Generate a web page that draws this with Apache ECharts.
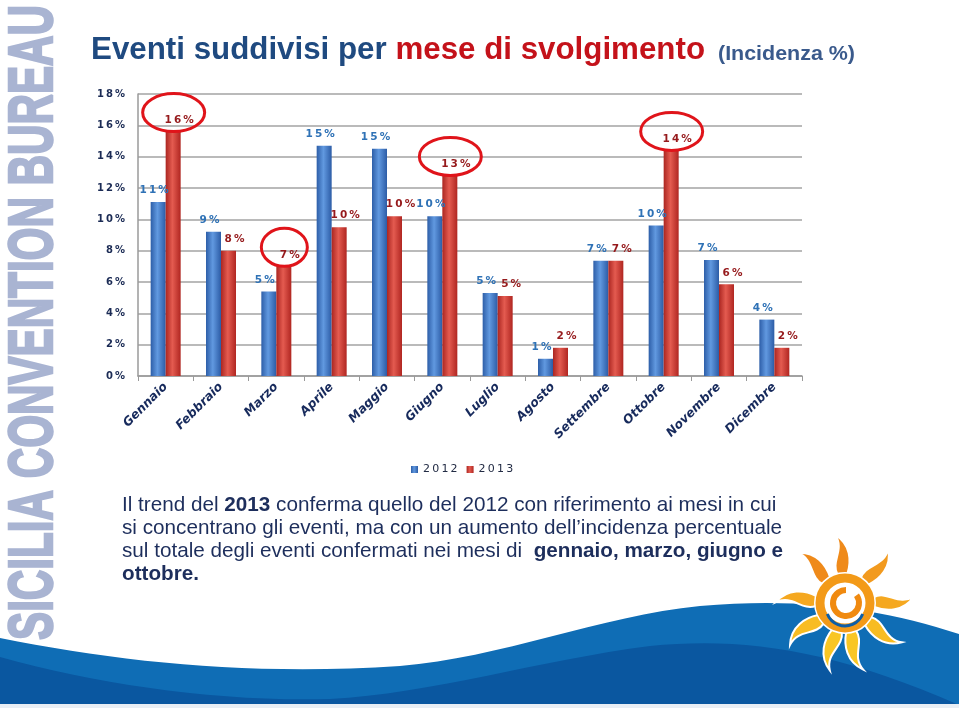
<!DOCTYPE html>
<html><head><meta charset="utf-8">
<script src="https://cdn.jsdelivr.net/npm/echarts@6/dist/echarts.min.js"></script>
<style>html,body{margin:0;padding:0;background:#fff;}#c{width:959px;height:708px;}</style>
</head><body><div id="c"></div>
<script>
var months = ['Gennaio','Febbraio','Marzo','Aprile','Maggio','Giugno','Luglio','Agosto','Settembre','Ottobre','Novembre','Dicembre'];
var values2012 = [11.1, 9.2, 5.4, 14.7, 14.5, 10.2, 5.3, 1.1, 7.35, 9.6, 7.4, 3.6];
var values2013 = [15.6, 8.0, 7.0, 9.5, 10.2, 12.8, 5.1, 1.8, 7.35, 14.4, 5.85, 1.8];
var labels2012 = ['11%','9%','5%','15%','15%','10%','5%','1%','7%','10%','7%','4%'];
var labels2013 = ['16%','8%','7%','10%','10%','13%','5%','2%','7%','14%','6%','2%'];
var yTicks = ['0%','2%','4%','6%','8%','10%','12%','14%','16%','18%'];
var highlighted = [0, 2, 5, 9];
var seriesNames = ['2012', '2013'];

function spaced(s){ return s.split('').join('\u2009'); }
var mctx = document.createElement('canvas').getContext('2d');
function measure(txt, font){ mctx.font = font; return mctx.measureText(txt).width; }

var chart = echarts.init(document.getElementById('c'));
function grad(a,b,c){
  return new echarts.graphic.LinearGradient(0,0,1,0,[{offset:0,color:a},{offset:0.45,color:b},{offset:1,color:c}]);
}
var option = {
  animation:false,
  backgroundColor:'#ffffff',
  grid:{left:138, right:157, top:94, bottom:332},
  legend:{
    data:seriesNames, top:459, left:406,
    itemWidth:7, itemHeight:7, itemGap:9, icon:'rect',
    textStyle:{fontFamily:'DejaVu Sans', fontSize:11, color:'#222b44'},
    formatter:function(n){return spaced(n);}
  },
  xAxis:{
    type:'category', data:months,
    axisLine:{lineStyle:{color:'#9a9a9a', width:1.5}},
    axisTick:{show:true, length:5, lineStyle:{color:'#9a9a9a'}},
    axisLabel:{rotate:45, margin:9, interval:0, fontFamily:'DejaVu Sans', fontWeight:'bold', fontStyle:'italic', fontSize:12.3, color:'#172a5c'}
  },
  yAxis:{
    type:'value', min:0, max:18, interval:2,
    axisLine:{show:true, lineStyle:{color:'#9a9a9a', width:1.5}},
    axisTick:{show:false},
    splitLine:{lineStyle:{color:'#a3a3a3', width:1.5}},
    axisLabel:{margin:13, fontFamily:'DejaVu Sans', fontWeight:'bold', fontSize:10, color:'#1b2b55',
      formatter:function(v){ return spaced(yTicks[Math.round(v/2)]); }}
  },
  series:[
    {name:seriesNames[0], type:'bar', data:values2012, barWidth:15, barGap:'0%',
      itemStyle:{color:grad('#2d5ea8','#6199e0','#2c5ca6')},
      label:{show:true, position:'top', distance:6, offset:[-4,0], fontFamily:'DejaVu Sans', fontWeight:'bold', fontSize:10.5, color:'#2f72b6',
        formatter:function(p){return spaced(labels2012[p.dataIndex]);}}
    },
    {name:seriesNames[1], type:'bar', data:values2013, barWidth:15,
      itemStyle:{color:grad('#ab2621','#e45b50','#b02621')},
      label:{show:true, position:'top', distance:6, offset:[6,0], fontFamily:'DejaVu Sans', fontWeight:'bold', fontSize:10.5, color:'#961a1c',
        formatter:function(p){return spaced(labels2013[p.dataIndex]);}}
    }
  ]
};
chart.setOption(option);

// custom decorative shapes
echarts.graphic.registerShape('waveTop', echarts.graphic.extendPath('M0,638 C120,662 250,676 400,666 C500,658 600,616 700,606 C800,597 880,608 959,634 L959,705 L0,705 Z', {}));
echarts.graphic.registerShape('waveLow', echarts.graphic.extendPath('M0,657 C100,685 220,702 330,699 C430,694 540,660 650,646 C740,637 830,648 959,705 L0,705 Z', {}));
echarts.graphic.registerShape('flame', echarts.graphic.extendPath('M-5,0 C-11,-14 5,-24 -4,-40 C11,-29 10,-12 5,0 Z', {}));

var g = [];
highlighted.forEach(function(i){
  var p = chart.convertToPixel({xAxisIndex:0, yAxisIndex:0}, [i, values2013[i]]);
  var rx = (i===2)?23:31;
  g.push({type:'ellipse', shape:{cx:p[0]+8, cy:p[1]-19, rx:rx, ry:19}, style:{fill:null, stroke:'#e0141a', lineWidth:3}, z:10});
});

// title
var TF = 'Liberation Sans';
var tA = 'Eventi suddivisi per ', tB = 'mese di svolgimento', tC = '(Incidenza %)';
var fs1 = 31, fs2 = 21;
var wAB = measure(tA + tB, 'bold '+fs1+'px "'+TF+'"');
var s1 = 614 / wAB;
var wA = measure(tA, 'bold '+fs1+'px "'+TF+'"') * s1;
var s2 = 137 / measure(tC, 'bold '+fs2+'px "'+TF+'"');
g.push({type:'text', x:91, y:62 - 0.36*fs1, scaleX:s1, style:{text:tA, fontFamily:TF, fontWeight:'bold', fontSize:fs1, fill:'#1f4a80', align:'left', verticalAlign:'middle'}});
g.push({type:'text', x:91 + wA, y:62 - 0.36*fs1, scaleX:s1, style:{text:tB, fontFamily:TF, fontWeight:'bold', fontSize:fs1, fill:'#c4121a', align:'left', verticalAlign:'middle'}});
g.push({type:'text', x:718, y:62 - 0.36*fs2, scaleX:s2, style:{text:tC, fontFamily:TF, fontWeight:'bold', fontSize:fs2, fill:'#3a5a8c', align:'left', verticalAlign:'middle'}});

// body text
var BF = 20.7;
var nrm = {fontFamily:'Liberation Sans', fontSize:BF, fill:'#1d2e5c'};
var bld = {fontFamily:'Liberation Sans', fontWeight:'bold', fontSize:BF, fill:'#1d2e5c'};
var bodyLines = [
  '{n|Il trend del }{b|2013}{n| conferma quello del 2012 con riferimento ai mesi in cui}',
  '{n|si concentrano gli eventi, ma con un aumento dell\u2019incidenza percentuale}',
  '{n|sul totale degli eventi confermati nei mesi di  }{b|gennaio, marzo, giugno e}',
  '{b|ottobre.}'
];
bodyLines.forEach(function(t, k){
  g.push({type:'text', x:122, y:513 + k*23 - 0.36*BF, style:{text:t, rich:{n:nrm, b:bld}, align:'left', verticalAlign:'middle'}, z:5});
});

// vertical brand text
var vt = 'SICILIA CONVENTION BUREAU', vfs = 63;
var vs = 635 / measure(vt, 'bold '+vfs+'px "Liberation Sans"');
g.push({type:'text', x:3, y:640, rotation:Math.PI/2, scaleX:vs, style:{
  text:vt, fontFamily:'Liberation Sans', fontWeight:'bold', fontSize:vfs,
  fill:'#a9b4d2', stroke:'#a9b4d2', lineWidth:2.5, align:'left', verticalAlign:'top'}});

// bottom waves
g.push({type:'waveTop', style:{fill:'#0f6db5'}, z:1});
g.push({type:'waveLow', style:{fill:'#0a57a0'}, z:1});
g.push({type:'rect', shape:{x:0,y:704,width:959,height:4}, style:{fill:'#e8eef5'}, z:1});

// sun
var cx=845, cy=603;
var rays = [
  {a:-5, c:'#ef8a1a'}, {a:42, c:'#f29a1e'}, {a:88, c:'#f5a820'}, {a:128, c:'#f8bc22'},
  {a:168, c:'#f9c624'}, {a:196, c:'#f9c624'}, {a:236, c:'#f8bc22'}, {a:274, c:'#f5a820'}, {a:320, c:'#ef8a1a'}
];
rays.forEach(function(r){
  var ang = r.a*Math.PI/180;
  var x = cx + Math.sin(ang)*29, y = cy - Math.cos(ang)*29;
  g.push({type:'flame', x:x, y:y, rotation:-ang, style:{fill:r.c, stroke:'#ffffff', lineWidth:2}, z:6});
});
g.push({type:'circle', shape:{cx:cx, cy:cy, r:31}, style:{fill:'#ffffff'}, z:6});
g.push({type:'arc', shape:{cx:cx, cy:cy, r:25, startAngle:0, endAngle:Math.PI*2}, style:{stroke:'#f39a18', lineWidth:9, fill:null}, z:7});
g.push({type:'arc', shape:{cx:cx+1, cy:cy, r:13, startAngle:-Math.PI*0.2, endAngle:Math.PI*1.5}, style:{stroke:'#f08a10', lineWidth:6, fill:null}, z:7});
g.push({type:'arc', shape:{cx:cx, cy:cy+4, r:19, startAngle:Math.PI*0.12, endAngle:Math.PI*0.88}, style:{stroke:'#0d5ea8', lineWidth:3, fill:null}, z:8});
chart.setOption({graphic:g});
</script></body></html>
